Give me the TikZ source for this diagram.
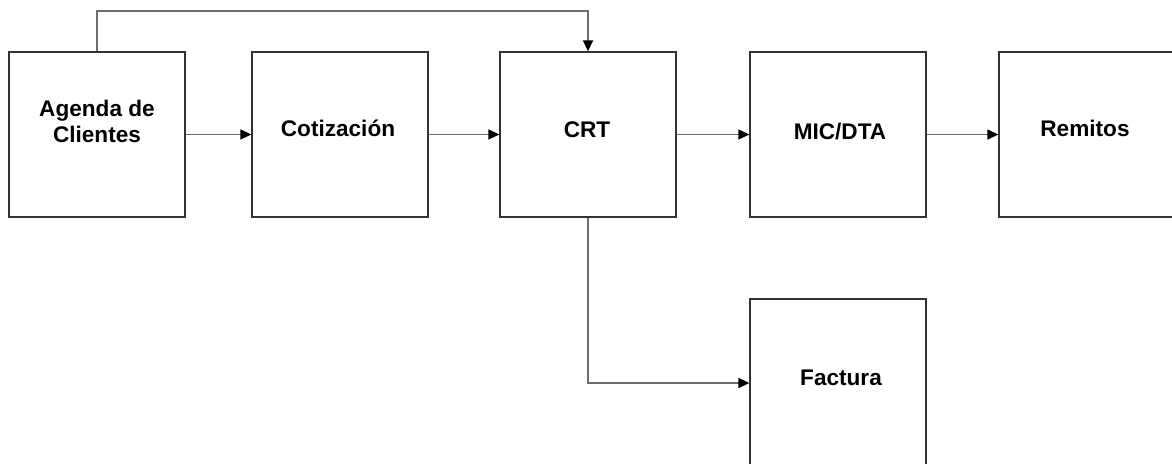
\documentclass[tikz,border=0pt]{standalone}
\usepackage{fontspec}
\setmainfont{Liberation Sans}
\usetikzlibrary{arrows.meta}
\definecolor{edge}{HTML}{333333}
\definecolor{wire}{HTML}{6e6e6e}

\begin{document}
\begin{tikzpicture}[x=0.5pt, y=-0.5pt,
  box/.style={draw=edge, line width=0.65pt, minimum width=88pt, minimum height=82.5pt, inner sep=0pt},
  txt/.style={font=\fontsize{11.3}{13}\selectfont\bfseries, align=center, inner sep=0pt},
  flow/.style={draw=wire, line width=0.65pt, -{Triangle[length=5.5pt, width=5pt, color=black]}}]
  \useasboundingbox (0,0) rectangle (1172,463);
  \clip (0,0) rectangle (1172,463);
  % Boxes (the last two run past the edge of the page)
  \node[box] (agenda) at (97,134.5) {};
  \node[box] (cotiz) at (340,134.5) {};
  \node[box] (crt) at (588,134.5) {};
  \node[box] (mic) at (838,134.5) {};
  \node[box, minimum width=94pt] (remitos) at (1093,134.5) {};
  \node[box, minimum height=84pt] (factura) at (838,383) {};
  % Labels
  \node[txt] (agenda-t) at (97,121) {Agenda de\\Clientes};
  \node[txt, anchor=base] (cotiz-t) at (338,136.5) {Cotización};
  \node[txt, anchor=base] (crt-t) at (587,137.5) {CRT};
  \node[txt, anchor=base] (mic-t) at (840,139.5) {MIC/DTA};
  \node[txt, anchor=base] (remitos-t) at (1085,136) {Remitos};
  \node[txt, anchor=base] (factura-t) at (841,385) {Factura};
  % Connectors
  \coordinate (top) at (0,11);
  \draw[flow] (agenda) -- (cotiz);
  \draw[flow] (cotiz) -- (crt);
  \draw[flow] (crt) -- (mic);
  \draw[flow] (mic) -- (remitos);
  \draw[flow] (agenda.north) |- (top -| crt.north) -- (crt.north);
  \draw[flow] (crt.south) |- (factura.west);
\end{tikzpicture}
\end{document}
